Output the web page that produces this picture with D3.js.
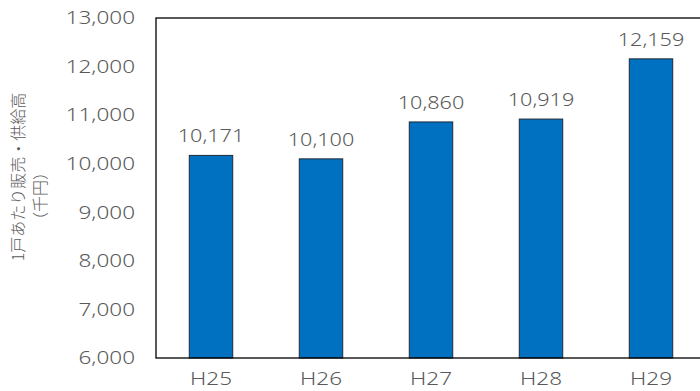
<!DOCTYPE html>
<html>
<head>
<meta charset="utf-8">
<script src="https://cdn.jsdelivr.net/npm/d3@7"></script>
<style>
  html, body { margin: 0; padding: 0; background: #fff; }
  svg text { fill: #595959; font-family: "Noto Sans", "Noto Sans CJK JP", sans-serif; }
</style>
</head>
<body>
<svg id="chart" width="700" height="391"></svg>
<script>
// Per-household sales/supply (thousand yen) by fiscal year
const categories = ["H25", "H26", "H27", "H28", "H29"];
const values = [10171, 10100, 10860, 10919, 12159];
const yTicks = [6000, 7000, 8000, 9000, 10000, 11000, 12000, 13000];
const yTitleLines = ["1戸あたり販売・供給高", "（千円）"];

const svg = d3.select("#chart");
const margin = { left: 156, top: 18, right: -6, bottom: 33 };
const W = 700, H = 391;
const innerW = W - margin.left - margin.right;
const innerH = H - margin.top - margin.bottom;

const x = d3.scaleBand().domain(categories).range([0, innerW]).paddingInner(0.605).paddingOuter(0.3025);
const y = d3.scaleLinear().domain([6000, 13000]).range([innerH, 0]);

const g = svg.append("g").attr("transform", `translate(${margin.left},${margin.top})`);

// widen glyphs a little for the round, wide numeral look
function widen(sel, k) {
  sel.each(function () {
    const w = this.getComputedTextLength();
    d3.select(this).attr("textLength", w * k).attr("lengthAdjust", "spacingAndGlyphs");
  });
}
const numStyle = sel => sel
  .style("font-size", "18px")
  .style("font-weight", "300");

// bars
g.selectAll("rect.bar").data(values).join("rect")
  .attr("class", "bar")
  .attr("x", (d, i) => x(categories[i]))
  .attr("y", d => y(d))
  .attr("width", x.bandwidth())
  .attr("height", d => innerH - y(d))
  .attr("fill", "#0070C0")
  .attr("stroke", "#1f2a36")
  .attr("stroke-width", 1);

// value labels
const fmt = d3.format(",");
g.selectAll("text.val").data(values).join("text")
  .attr("class", "val")
  .attr("x", (d, i) => x(categories[i]) + x.bandwidth() / 2)
  .attr("y", d => y(d) - 13)
  .attr("text-anchor", "middle")
  .call(numStyle)
  .text(d => fmt(d))
  .call(widen, 1.2);

// frame
g.append("rect")
  .attr("x", 0).attr("y", 0)
  .attr("width", innerW).attr("height", innerH)
  .attr("fill", "none").attr("stroke", "#000").attr("stroke-width", 1.3);

// y axis
const yAxis = d3.axisLeft(y).tickValues(yTicks).tickFormat(fmt).tickSize(0).tickPadding(21);
const ya = g.append("g").call(yAxis);
ya.select(".domain").remove();
ya.selectAll("text").attr("font-family", null).attr("font-size", null)
  .call(numStyle).call(widen, 1.25);

// x axis
const xAxis = d3.axisBottom(x).tickSize(0).tickPadding(14);
const xa = g.append("g").attr("transform", `translate(0,${innerH})`).call(xAxis);
xa.select(".domain").remove();
xa.selectAll("text").attr("font-family", null).attr("font-size", null)
  .call(numStyle).call(widen, 1.25);

// y axis title
const titleFont = sel => sel
  .attr("text-anchor", "middle")
  .style("font-size", "16px")
  .style("font-weight", "300")
  .style("font-family", "'Noto Sans CJK JP', sans-serif");
svg.append("text")
  .attr("transform", "translate(24,177) rotate(-90)")
  .call(titleFont)
  .text(yTitleLines[0]);
svg.append("text")
  .attr("transform", "translate(46,196) rotate(-90)")
  .call(titleFont)
  .text(yTitleLines[1]);
</script>
</body>
</html>
